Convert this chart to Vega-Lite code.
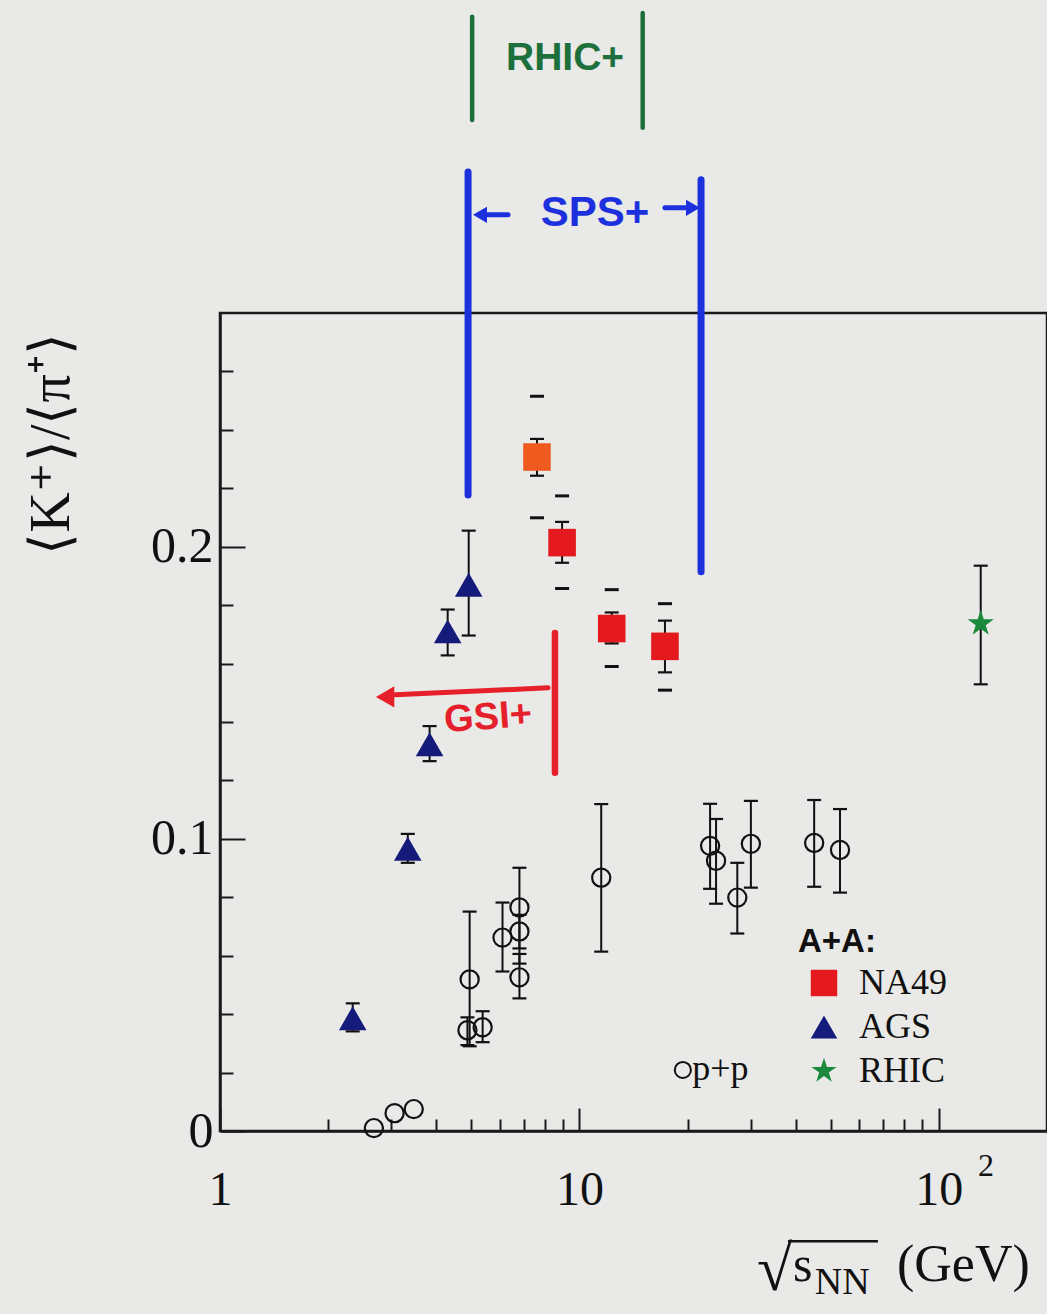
{
  "$schema": "https://vega.github.io/schema/vega-lite/v6.json",
  "width": 827,
  "height": 818,
  "autosize": {"type": "none"},
  "padding": {"left": 220, "top": 313, "right": 0, "bottom": 183},
  "background": "#e9e9e7",
  "config": {
    "view": {"stroke": "#1a1a1a", "strokeWidth": 2.5, "fill": null},
    "axis": {
      "grid": false,
      "domainColor": "#1a1a1a",
      "domainWidth": 2.5,
      "tickColor": "#1a1a1a",
      "tickWidth": 2,
      "labelColor": "#111111",
      "labelFont": "Liberation Serif",
      "labelOverlap": false,
      "labelFlush": false,
      "labelBound": false,
      "titleColor": "#111111",
      "titleFont": "Liberation Serif",
      "titleFontWeight": "normal"
    }
  },
  "datasets": {
    "aa": [
      {"series": "NA49 30A", "x": 7.62, "y": 0.2307, "lo": 0.2243, "hi": 0.2369, "syslo": 0.2099, "syshi": 0.2515},
      {"series": "NA49", "x": 8.95, "y": 0.2014, "lo": 0.1945, "hi": 0.2085, "syslo": 0.1857, "syshi": 0.2174},
      {"series": "NA49", "x": 12.3, "y": 0.1720, "lo": 0.1669, "hi": 0.1775, "syslo": 0.1590, "syshi": 0.1853},
      {"series": "NA49", "x": 17.3, "y": 0.1659, "lo": 0.1570, "hi": 0.1747, "syslo": 0.1509, "syshi": 0.1805},
      {"series": "AGS", "x": 4.92, "y": 0.1870, "lo": 0.1696, "hi": 0.2055},
      {"series": "AGS", "x": 4.30, "y": 0.1710, "lo": 0.1628, "hi": 0.1785},
      {"series": "AGS", "x": 3.83, "y": 0.1324, "lo": 0.1266, "hi": 0.1386},
      {"series": "AGS", "x": 3.33, "y": 0.0966, "lo": 0.0918, "hi": 0.1017},
      {"series": "AGS", "x": 2.34, "y": 0.0386, "lo": 0.0341, "hi": 0.0437},
      {"series": "RHIC", "x": 130.8, "y": 0.1737, "lo": 0.1529, "hi": 0.1935}
    ],
    "pp": [
      {"x": 2.68, "y": 0.001},
      {"x": 3.06, "y": 0.0061},
      {"x": 3.46, "y": 0.0075},
      {"x": 4.95, "y": 0.0519, "lo": 0.0290, "hi": 0.0751},
      {"x": 4.88, "y": 0.0345, "lo": 0.0294, "hi": 0.0389},
      {"x": 5.38, "y": 0.0355, "lo": 0.0304, "hi": 0.0410},
      {"x": 6.11, "y": 0.0662, "lo": 0.0546, "hi": 0.0782},
      {"x": 6.81, "y": 0.0765, "lo": 0.0625, "hi": 0.0901},
      {"x": 6.81, "y": 0.0683, "lo": 0.0573, "hi": 0.0740},
      {"x": 6.81, "y": 0.0526, "lo": 0.0454, "hi": 0.0606},
      {"x": 11.5, "y": 0.0867, "lo": 0.0614, "hi": 0.1119},
      {"x": 23.1, "y": 0.0976, "lo": 0.0829, "hi": 0.1120},
      {"x": 24.0, "y": 0.0925, "lo": 0.0778, "hi": 0.1068},
      {"x": 27.5, "y": 0.0799, "lo": 0.0676, "hi": 0.0918},
      {"x": 30.0, "y": 0.0983, "lo": 0.0833, "hi": 0.1130},
      {"x": 45.0, "y": 0.0986, "lo": 0.0836, "hi": 0.1133},
      {"x": 53.1, "y": 0.0962, "lo": 0.0816, "hi": 0.1102}
    ]
  },
  "resolve": {"axis": {"x": "independent", "y": "independent"}},
  "layer": [
    {
      "encoding": {
        "x": {
          "field": "x",
          "type": "quantitative",
          "scale": {"type": "log", "domain": [1, 200], "nice": false},
          "axis": {
            "orient": "bottom",
            "title": null,
            "values": [1, 10, 100],
            "labelExpr": "datum.value == 1 ? '1' : '10'",
            "labelFontSize": 48,
            "tickSize": -23,
            "labelPadding": 58
          }
        },
        "y": {
          "field": "y",
          "type": "quantitative",
          "scale": {"domain": [0, 0.28], "nice": false, "zero": false},
          "axis": null
        }
      },
      "layer": [
        {
          "data": {"name": "pp"},
          "transform": [{"filter": "isValid(datum.lo)"}],
          "mark": {"type": "rule", "color": "#111111", "strokeWidth": 2},
          "encoding": {
            "y": {"field": "lo", "type": "quantitative", "axis": null},
            "y2": {"field": "hi"}
          }
        },
        {
          "data": {"name": "pp"},
          "transform": [{"filter": "isValid(datum.lo)"}],
          "mark": {"type": "tick", "orient": "horizontal", "size": 14, "thickness": 2.2, "color": "#111111", "opacity": 1},
          "encoding": {"y": {"field": "lo", "type": "quantitative", "axis": null}}
        },
        {
          "data": {"name": "pp"},
          "transform": [{"filter": "isValid(datum.hi)"}],
          "mark": {"type": "tick", "orient": "horizontal", "size": 14, "thickness": 2.2, "color": "#111111", "opacity": 1},
          "encoding": {"y": {"field": "hi", "type": "quantitative", "axis": null}}
        },
        {
          "data": {"name": "aa"},
          "mark": {"type": "rule", "color": "#111111", "strokeWidth": 2},
          "encoding": {
            "y": {"field": "lo", "type": "quantitative", "axis": null},
            "y2": {"field": "hi"}
          }
        },
        {
          "data": {"name": "aa"},
          "mark": {"type": "tick", "orient": "horizontal", "size": 14, "thickness": 2.2, "color": "#111111", "opacity": 1},
          "encoding": {"y": {"field": "lo", "type": "quantitative", "axis": null}}
        },
        {
          "data": {"name": "aa"},
          "mark": {"type": "tick", "orient": "horizontal", "size": 14, "thickness": 2.2, "color": "#111111", "opacity": 1},
          "encoding": {"y": {"field": "hi", "type": "quantitative", "axis": null}}
        },
        {
          "data": {"name": "aa"},
          "transform": [{"filter": "isValid(datum.syslo)"}],
          "mark": {"type": "tick", "orient": "horizontal", "size": 14, "thickness": 3, "color": "#111111", "opacity": 1},
          "encoding": {"y": {"field": "syslo", "type": "quantitative", "axis": null}}
        },
        {
          "data": {"name": "aa"},
          "transform": [{"filter": "isValid(datum.syshi)"}],
          "mark": {"type": "tick", "orient": "horizontal", "size": 14, "thickness": 3, "color": "#111111", "opacity": 1},
          "encoding": {"y": {"field": "syshi", "type": "quantitative", "axis": null}}
        },
        {
          "data": {"name": "pp"},
          "mark": {"type": "point", "shape": "circle", "filled": false, "size": 330, "stroke": "#111111", "strokeWidth": 2.2, "opacity": 1}
        },
        {
          "data": {"name": "aa"},
          "mark": {"type": "point", "filled": true, "size": 760, "opacity": 1, "strokeWidth": 0},
          "encoding": {
            "color": {
              "field": "series",
              "type": "nominal",
              "scale": {"domain": ["NA49", "AGS", "RHIC", "NA49 30A"], "range": ["#e3191e", "#151b7a", "#1b8a3c", "#ef5a1f"]},
              "legend": {
                "title": "A+A:", "orient": "none", "legendX": 578, "legendY": 613,
                "values": ["NA49", "AGS", "RHIC"],
                "titleFont": "Liberation Sans", "titleFontSize": 33, "titleFontWeight": "bold", "titleColor": "#111111", "titlePadding": 6,
                "labelFont": "Liberation Serif", "labelFontSize": 36, "labelColor": "#111111", "labelOffset": 17,
                "symbolOffset": 8, "symbolSize": 700, "symbolStrokeWidth": 0, "symbolOpacity": 1, "rowPadding": 8, "padding": 0
              }
            },
            "shape": {
              "field": "series",
              "type": "nominal",
              "scale": {"domain": ["NA49", "AGS", "RHIC", "NA49 30A"], "range": ["square", "triangle-up", "M0,-1L0.2245,-0.309L0.951,-0.309L0.3633,0.118L0.5878,0.809L0,0.382L-0.5878,0.809L-0.3633,0.118L-0.951,-0.309L-0.2245,-0.309Z", "square"]},
              "legend": {
                "title": "A+A:", "orient": "none", "legendX": 578, "legendY": 613,
                "values": ["NA49", "AGS", "RHIC"],
                "titleFont": "Liberation Sans", "titleFontSize": 33, "titleFontWeight": "bold", "titleColor": "#111111", "titlePadding": 6,
                "labelFont": "Liberation Serif", "labelFontSize": 36, "labelColor": "#111111", "labelOffset": 17,
                "symbolOffset": 8, "symbolSize": 700, "symbolStrokeWidth": 0, "symbolOpacity": 1, "rowPadding": 8, "padding": 0
              }
            }
          }
        },
        {
          "data": {"values": [{"x": 0.341, "y": 0.2352}]},
          "mark": {"type": "text", "text": "⟨K⁺⟩/⟨π⁺⟩", "font": "Liberation Serif", "fontSize": 56, "align": "center", "baseline": "middle", "angle": 270, "color": "#111111"}
        },
        {
          "data": {"values": [{"x": 19.4, "y": 0.0209}]},
          "mark": {"type": "point", "shape": "circle", "filled": false, "size": 260, "stroke": "#111111", "strokeWidth": 2, "opacity": 1}
        },
        {
          "data": {"values": [{"x": 20.6, "y": 0.0175}]},
          "mark": {"type": "text", "text": "p+p", "font": "Liberation Serif", "fontSize": 36, "align": "left", "baseline": "alphabetic", "color": "#111111"}
        },
        {
          "data": {"values": [{"x": 128.5, "y": -0.0154}]},
          "mark": {"type": "text", "text": "2", "font": "Liberation Serif", "fontSize": 32, "align": "left", "baseline": "alphabetic", "color": "#111111"}
        },
        {
          "data": {"values": [{"x": 31.2, "y": -0.0544}]},
          "mark": {"type": "text", "text": "√", "font": "Liberation Serif", "fontSize": 64, "align": "left", "baseline": "alphabetic", "color": "#111111"}
        },
        {
          "data": {"values": [{"x": 38.05, "x2": 67.7, "y": -0.0377}]},
          "mark": {"type": "rule", "color": "#111111", "strokeWidth": 2.5},
          "encoding": {"x2": {"field": "x2"}}
        },
        {
          "data": {"values": [{"x": 39.3, "y": -0.0514}]},
          "mark": {"type": "text", "text": "s", "font": "Liberation Serif", "fontSize": 50, "align": "left", "baseline": "alphabetic", "color": "#111111"}
        },
        {
          "data": {"values": [{"x": 45.2, "y": -0.0558}]},
          "mark": {"type": "text", "text": "NN", "font": "Liberation Serif", "fontSize": 38, "align": "left", "baseline": "alphabetic", "color": "#111111"}
        },
        {
          "data": {"values": [{"x": 76.5, "y": -0.0514}]},
          "mark": {"type": "text", "text": "(GeV)", "font": "Liberation Serif", "fontSize": 52, "align": "left", "baseline": "alphabetic", "color": "#111111"}
        },
        {
          "data": {"values": [{"x": 5.03, "y": 0.3461, "y2": 0.3814}, {"x": 15.0, "y": 0.3434, "y2": 0.3827}]},
          "mark": {"type": "rule", "color": "#1d6f3c", "strokeWidth": 4.5, "strokeCap": "round"},
          "encoding": {"y2": {"field": "y2"}}
        },
        {
          "data": {"values": [{"x": 9.12, "y": 0.3673}]},
          "mark": {"type": "text", "text": "RHIC+", "font": "Liberation Sans", "fontWeight": "bold", "fontSize": 39, "align": "center", "baseline": "middle", "color": "#1d6f3c"}
        },
        {
          "data": {"values": [{"x": 4.90, "y": 0.2177, "y2": 0.3283}, {"x": 21.8, "y": 0.1914, "y2": 0.3256}]},
          "mark": {"type": "rule", "color": "#1c30de", "strokeWidth": 7, "strokeCap": "round"},
          "encoding": {"y2": {"field": "y2"}}
        },
        {
          "data": {"values": [{"x": 11.05, "y": 0.3143}]},
          "mark": {"type": "text", "text": "SPS+", "font": "Liberation Sans", "fontWeight": "bold", "fontSize": 42, "align": "center", "baseline": "middle", "color": "#1c30de"}
        },
        {
          "data": {"values": [{"x": 5.46, "x2": 6.33, "y": 0.3136}, {"x": 17.3, "x2": 20.3, "y": 0.3160}]},
          "mark": {"type": "rule", "color": "#1c30de", "strokeWidth": 5, "strokeCap": "round"},
          "encoding": {"x2": {"field": "x2"}}
        },
        {
          "data": {"values": [{"x": 5.29, "y": 0.3136}]},
          "mark": {"type": "point", "shape": "triangle-left", "filled": true, "size": 260, "color": "#1c30de", "opacity": 1}
        },
        {
          "data": {"values": [{"x": 20.7, "y": 0.3160}]},
          "mark": {"type": "point", "shape": "triangle-right", "filled": true, "size": 260, "color": "#1c30de", "opacity": 1}
        },
        {
          "data": {"values": [{"x": 8.55, "y": 0.1226, "y2": 0.1705}]},
          "mark": {"type": "rule", "color": "#e5202a", "strokeWidth": 6.5, "strokeCap": "round"},
          "encoding": {"y2": {"field": "y2"}}
        },
        {
          "data": {"values": [{"x": 8.18, "x2": 3.07, "y": 0.1517, "y2": 0.1493}]},
          "mark": {"type": "rule", "color": "#e5202a", "strokeWidth": 5, "strokeCap": "round"},
          "encoding": {"x2": {"field": "x2"}, "y2": {"field": "y2"}}
        },
        {
          "data": {"values": [{"x": 2.88, "y": 0.1486}]},
          "mark": {"type": "point", "shape": "triangle-left", "filled": true, "size": 450, "color": "#e5202a", "opacity": 1}
        },
        {
          "data": {"values": [{"x": 5.57, "y": 0.1414}]},
          "mark": {"type": "text", "text": "GSI+", "font": "Liberation Sans", "fontWeight": "bold", "fontSize": 38, "align": "center", "baseline": "middle", "angle": 356, "color": "#e5202a"}
        }
      ]
    },
    {
      "data": {"name": "pp"},
      "mark": {"type": "point", "opacity": 0, "size": 1},
      "encoding": {
        "x": {
          "field": "x",
          "type": "quantitative",
          "scale": {"type": "log", "domain": [1, 200], "nice": false},
          "axis": {
            "orient": "bottom",
            "title": null,
            "values": [2, 3, 4, 5, 6, 7, 8, 9, 20, 30, 40, 50, 60, 70, 80, 90],
            "labels": false,
            "domain": false,
            "tickSize": -12
          }
        },
        "y": {
          "field": "y",
          "type": "quantitative",
          "scale": {"domain": [0, 0.28], "nice": false, "zero": false},
          "axis": {
            "orient": "left",
            "title": null,
            "values": [0.02, 0.04, 0.06, 0.08, 0.12, 0.14, 0.16, 0.18, 0.22, 0.24, 0.26],
            "labels": false,
            "domain": false,
            "tickSize": -13
          }
        }
      }
    },
    {
      "data": {"name": "pp"},
      "mark": {"type": "point", "opacity": 0, "size": 1},
      "encoding": {
        "x": {
          "field": "x",
          "type": "quantitative",
          "scale": {"type": "log", "domain": [1, 200], "nice": false},
          "axis": null
        },
        "y": {
          "field": "y",
          "type": "quantitative",
          "scale": {"domain": [0, 0.28], "nice": false, "zero": false},
          "axis": {
            "orient": "left",
            "title": null,
            "values": [0, 0.1, 0.2],
            "labelExpr": "datum.value == 0 ? '0' : datum.value < 0.15 ? '0.1' : '0.2'",
            "labelFontSize": 50,
            "tickSize": -25,
            "labelPadding": 32
          }
        }
      }
    }
  ]
}
